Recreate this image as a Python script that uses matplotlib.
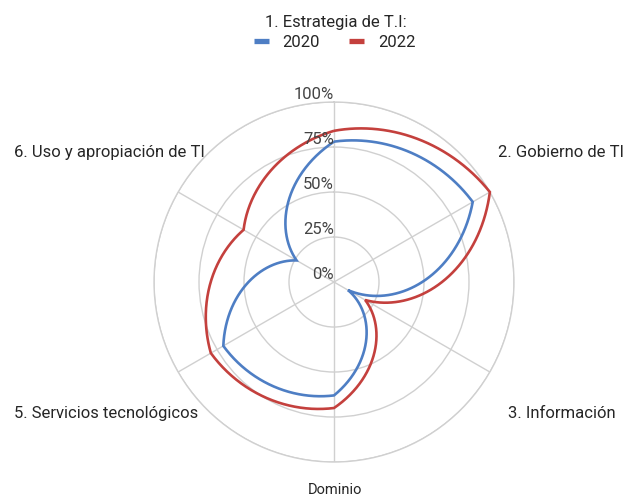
"""
Radar chart: dominio scores 2020 vs 2022
"""
import numpy as np
from matplotlib import pyplot as plt
from matplotlib.lines import Line2D
from matplotlib.patches import PathPatch
from matplotlib.path import Path

plt.rcParams['font.family'] = ['Roboto', 'DejaVu Sans']

categories = ["1. Estrategia de T.I:", "2. Gobierno de TI", "3. Información",
              "Dominio", "5. Servicios tecnológicos", "6. Uso y apropiación de TI"]
values_2020 = [78, 89, 9, 63, 71, 24]
values_2022 = [84, 100, 20, 70, 79, 58]
radial_ticks = [0, 25, 50, 75, 100]

BLUE = "#4e7ec4"
RED = "#c4403d"
GRID = "#d0d0d0"
TEXT = "#262626"

fig = plt.figure(figsize=(6.24, 4.96), dpi=100)
ax = fig.add_axes([0.2468, 0.0685, 0.5769, 0.7258], projection="polar")
ax.set_theta_zero_location("N")
ax.set_theta_direction(-1)

angles = np.deg2rad(np.arange(len(categories)) * 360 / len(categories))
# close the loop at 2*pi so the last edge keeps turning the same way
closed_angles = np.append(angles, 2 * np.pi)

# the reference joins the points in (angle, radius) space, so the edges bend
# like spirals; a path with interpolation steps gets drawn the same way
handles = []
for vals, col, lab in [(values_2020, BLUE, "2020"), (values_2022, RED, "2022")]:
    verts = np.column_stack([closed_angles, np.append(vals, vals[0])])
    path = Path(verts, _interpolation_steps=120)
    ax.add_patch(PathPatch(path, fill=False, edgecolor=col, lw=1.9,
                           joinstyle="miter", clip_on=False, zorder=3))
    handles.append(Line2D([], [], color=col, lw=3.8, solid_capstyle="butt", label=lab))

ax.set_ylim(0, 100)
ax.set_yticks(radial_ticks[1:])
ax.set_yticklabels([])
ax.set_xticks(angles)
ax.set_xticklabels([])
ax.grid(color=GRID, lw=1.0)
ax.spines["polar"].set_color(GRID)
ax.spines["polar"].set_linewidth(1.0)

for t in radial_ticks:
    ax.text(0, t, f"{t}%", ha="right", va="bottom", fontsize=12, color="#444444")

# category labels placed around the chart
fig.text(0.5375, 0.955, categories[0], ha="center", va="center", fontsize=12, color=TEXT)
fig.text(0.798, 0.693, categories[1], ha="left", va="center", fontsize=12, color=TEXT)
fig.text(0.814, 0.167, categories[2], ha="left", va="center", fontsize=12, color=TEXT)
fig.text(0.537, 0.012, categories[3], ha="center", va="center", fontsize=10.5, color=TEXT)
fig.text(0.318, 0.167, categories[4], ha="right", va="center", fontsize=12, color=TEXT)
fig.text(0.328, 0.693, categories[5], ha="right", va="center", fontsize=12, color=TEXT)

leg = fig.legend(handles=handles, loc="center", bbox_to_anchor=(0.536, 0.915), ncol=2,
                 frameon=False, fontsize=12, handlelength=0.9, handletextpad=0.8,
                 columnspacing=1.8, labelcolor=TEXT)

fig.savefig("out.png", dpi=100)
